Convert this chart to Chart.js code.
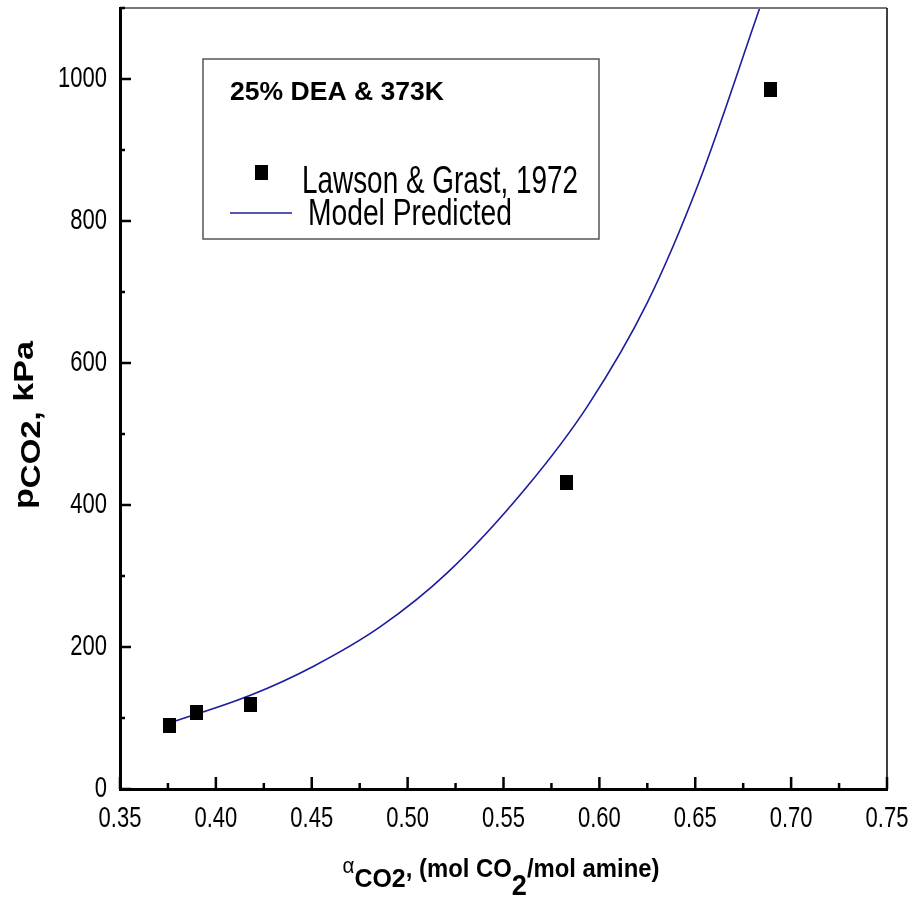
<!DOCTYPE html>
<html>
<head>
<meta charset="utf-8">
<script src="https://cdn.jsdelivr.net/npm/chart.js@4.4.0/dist/chart.umd.min.js"></script>
<style>
  html, body { margin: 0; padding: 0; background: #fff; }
</style>
</head>
<body>
<canvas id="myChart" width="917" height="901"></canvas>
<script>
// experimental points (Lawson & Grast, 1972)
const alphaExp = [0.376, 0.390, 0.418, 0.583, 0.689];
const pExp = [89, 108, 119, 432, 985];

// model curve
const alphaModel = [0.376, 0.418, 0.451, 0.486, 0.5205, 0.562, 0.594, 0.625, 0.652, 0.6835];
const pModel = [93, 132, 173, 229, 304, 425, 540, 685, 855, 1099];

const xTicks = [0.35, 0.40, 0.45, 0.50, 0.55, 0.60, 0.65, 0.70, 0.75];
const xMinor = [0.375, 0.425, 0.475, 0.525, 0.575, 0.625, 0.675, 0.725];
const yTicks = [0, 200, 400, 600, 800, 1000];
const yMinor = [100, 300, 500, 700, 900, 1100];

const FONT = '"Liberation Sans", Arial, sans-serif';
const LINE_COLOR = '#1c1c9e';

// filled black marker, a bit taller than wide like the original
const marker = document.createElement('canvas');
marker.width = 13;
marker.height = 15;
const mctx = marker.getContext('2d');
mctx.fillStyle = '#000';
mctx.fillRect(0, 0, 13, 15);

// draws a run of text pieces with different size / offset
function drawRich(ctx, parts, x, y, opts) {
  ctx.save();
  ctx.translate(x, y);
  if (opts.rot) ctx.rotate(opts.rot);
  let total = 0;
  parts.forEach(p => {
    ctx.font = `${p[2]} ${p[1]}px ${FONT}`;
    p.w = ctx.measureText(p[0]).width;
    total += p.w;
  });
  const sx = opts.width ? opts.width / total : 1;
  const sy = opts.sy || 1;
  ctx.scale(sx, sy);
  let cx = opts.align === 'left' ? 0 : -total / 2;
  ctx.fillStyle = '#000';
  ctx.textBaseline = 'alphabetic';
  ctx.textAlign = 'left';
  parts.forEach(p => {
    ctx.font = `${p[2]} ${p[1]}px ${FONT}`;
    ctx.fillText(p[0], cx, (p[3] || 0) / sy);
    cx += p.w;
  });
  ctx.restore();
}

// tall, narrow-looking tick label
function tickLabel(ctx, text, x, y, align, baseline) {
  ctx.save();
  ctx.translate(x, y);
  ctx.scale(1, 1.3);
  ctx.font = `22px ${FONT}`;
  ctx.fillStyle = '#000';
  ctx.textAlign = align;
  ctx.textBaseline = baseline;
  ctx.fillText(text, 0, 0);
  ctx.restore();
}

const decor = {
  id: 'decor',
  afterDraw(chart) {
    const { ctx, chartArea: a, scales: { x, y } } = chart;
    ctx.save();
    // frame: top and right
    ctx.strokeStyle = '#777';
    ctx.lineWidth = 2;
    ctx.beginPath();
    ctx.moveTo(a.left, a.top);
    ctx.lineTo(a.right, a.top);
    ctx.stroke();
    ctx.strokeStyle = '#000';
    ctx.lineWidth = 1.5;
    ctx.beginPath();
    ctx.moveTo(a.right, a.top);
    ctx.lineTo(a.right, a.bottom);
    ctx.stroke();

    // inward ticks
    ctx.strokeStyle = '#000';
    ctx.lineWidth = 2.5;
    ctx.beginPath();
    xTicks.forEach(v => { const px = x.getPixelForValue(v); ctx.moveTo(px, a.bottom); ctx.lineTo(px, a.bottom - 12); });
    xMinor.forEach(v => { const px = x.getPixelForValue(v); ctx.moveTo(px, a.bottom); ctx.lineTo(px, a.bottom - 6); });
    yTicks.forEach(v => { const py = y.getPixelForValue(v); ctx.moveTo(a.left, py); ctx.lineTo(a.left + 11, py); });
    yMinor.forEach(v => { const py = y.getPixelForValue(v); ctx.moveTo(a.left, py); ctx.lineTo(a.left + 5, py); });
    ctx.stroke();

    // tick labels
    xTicks.forEach(v => tickLabel(ctx, v.toFixed(2), x.getPixelForValue(v), a.bottom + 38, 'center', 'alphabetic'));
    yTicks.forEach(v => tickLabel(ctx, String(v), a.left - 13, y.getPixelForValue(v), 'right', 'middle'));

    // legend box
    ctx.strokeStyle = '#555';
    ctx.lineWidth = 1.5;
    ctx.strokeRect(203, 59, 396, 180);
    drawRich(ctx, [['25% DEA & 373K', 26.5, 'bold']], 230, 100, { align: 'left', width: 214 });
    ctx.drawImage(marker, 255, 165);
    drawRich(ctx, [[chart.data.datasets[0].label, 27, 'normal']], 302, 193, { align: 'left', width: 276, sy: 1.45 });
    ctx.strokeStyle = LINE_COLOR;
    ctx.lineWidth = 1.5;
    ctx.beginPath();
    ctx.moveTo(230, 213);
    ctx.lineTo(292, 213);
    ctx.stroke();
    drawRich(ctx, [[chart.data.datasets[1].label, 27, 'normal']], 308, 225, { align: 'left', width: 204, sy: 1.4 });

    // axis titles
    drawRich(ctx, [
      ['\u03b1', 19, 'normal', -4],
      ['CO2', 23, 'bold', 10],
      [', (mol CO', 22, 'bold', 0],
      ['2', 25, 'bold', 18],
      ['/mol amine)', 22, 'bold', 0]
    ], 501, 877, { width: 317, sy: 1.15 });
    drawRich(ctx, [
      ['p', 28, 'bold', 0],
      ['CO2,', 27, 'bold', 7],
      [' kPa', 28, 'bold', 0]
    ], 33, 425, { rot: -Math.PI / 2, width: 168 });
    ctx.restore();
  }
};

const ctx = document.getElementById('myChart');

new Chart(ctx, {
  type: 'scatter',
  data: {
    datasets: [
      {
        label: 'Lawson & Grast, 1972',
        data: alphaExp.map((a, i) => ({ x: a, y: pExp[i] })),
        pointStyle: marker,
        pointRadius: 8,
        pointHoverRadius: 8,
        backgroundColor: '#000',
        borderWidth: 0
      },
      {
        label: 'Model Predicted',
        data: alphaModel.map((a, i) => ({ x: a, y: pModel[i] })),
        showLine: true,
        borderColor: LINE_COLOR,
        borderWidth: 1.6,
        pointRadius: 0,
        cubicInterpolationMode: 'monotone',
        fill: false
      }
    ]
  },
  options: {
    responsive: false,
    animation: false,
    devicePixelRatio: 1,
    layout: { padding: { top: 8, right: 30, left: 0, bottom: 0 } },
    plugins: {
      legend: { display: false },
      tooltip: { enabled: false }
    },
    scales: {
      x: {
        type: 'linear',
        min: 0.35,
        max: 0.75,
        afterBuildTicks: s => { s.ticks = xTicks.map(v => ({ value: v })); },
        afterFit: s => { s.height = 112; s.paddingLeft = 0; s.paddingRight = 0; },
        ticks: { display: false },
        grid: { display: false, drawTicks: false },
        border: { display: true, color: '#000', width: 3 }
      },
      y: {
        type: 'linear',
        min: 0,
        max: 1100,
        afterBuildTicks: s => { s.ticks = yTicks.map(v => ({ value: v })); },
        afterFit: s => { s.width = 120; s.paddingTop = 0; s.paddingBottom = 0; },
        ticks: { display: false },
        grid: { display: false, drawTicks: false },
        border: { display: true, color: '#000', width: 3 }
      }
    }
  },
  plugins: [decor]
});
</script>
</body>
</html>
